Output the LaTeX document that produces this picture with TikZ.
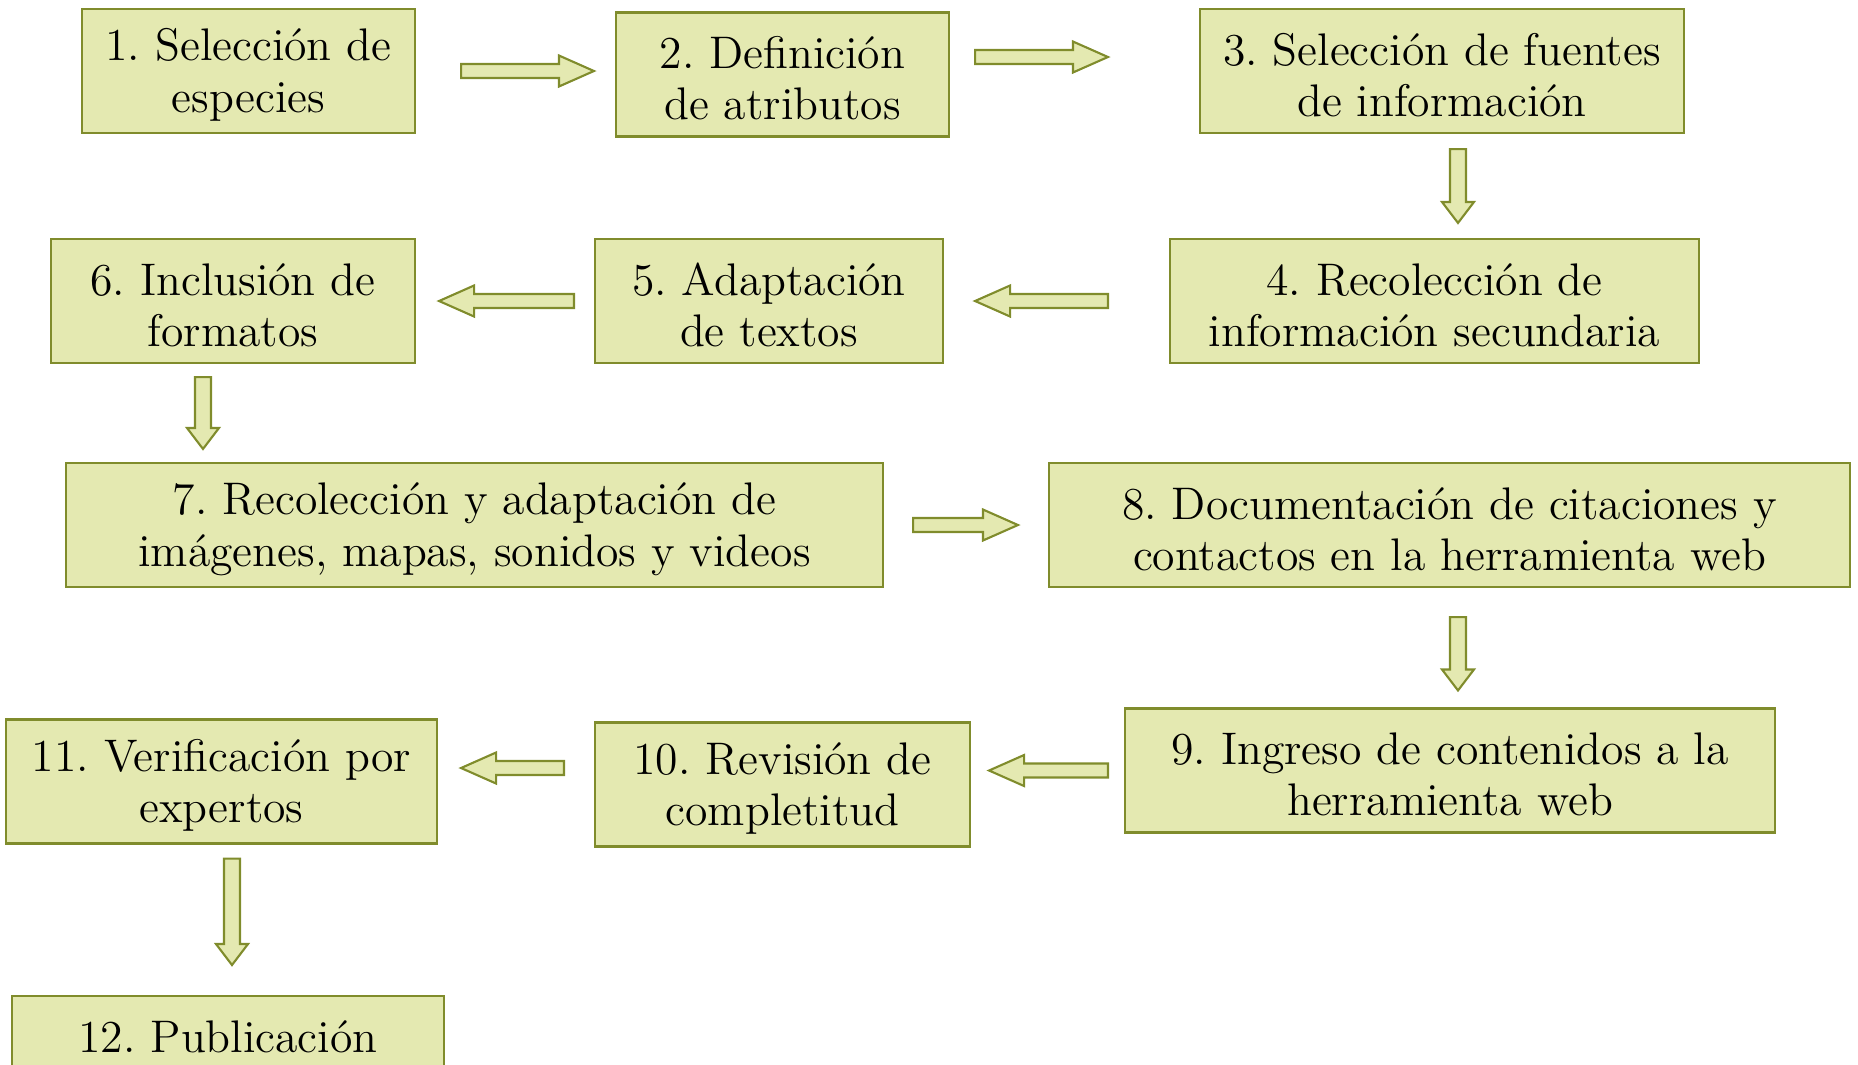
\documentclass[tikz,border=0pt]{standalone}
\usetikzlibrary{calc}

\definecolor{relleno}{RGB}{228,233,177}
\definecolor{borde}{RGB}{128,140,44}

\begin{document}
\frenchspacing
\begin{tikzpicture}[
  font=\fontsize{13}{14.6}\selectfont,
  paso/.style={draw=borde,fill=relleno,line width=0.6pt,align=center,minimum height=1.24cm,inner sep=2pt,text height=26pt},
  medidas/.code n args={3}{\def\flmedio{#1}\def\flcabeza{#2}\def\flpunta{#3}},
  flechah/.style={medidas={0.7mm}{1.55mm}{3.5mm}},
  flechav/.style={medidas={0.8mm}{1.6mm}{2.1mm}},
  flecha/.style 2 args={draw=borde,fill=relleno,line width=0.6pt,line join=miter,to path={
    let \p1=($(\tikztostart)!#1!(\tikztotarget)$), \p2=($(\tikztotarget)!#2!(\tikztostart)$), \p3=($(\p2)!\flpunta!(\p1)$) in
    ($(\p1)!\flmedio!90:(\p2)$) -- ($(\p3)!\flmedio!-90:(\p1)$) -- ($(\p3)!\flcabeza!-90:(\p1)$) -- (\p2)
    -- ($(\p3)!\flcabeza!90:(\p1)$) -- ($(\p3)!\flmedio!90:(\p1)$) -- ($(\p1)!\flmedio!-90:(\p2)$) -- cycle}}
]
\useasboundingbox (0,0) rectangle (18.58,-10.64);
\node[paso,minimum width=3.33cm] (b1) at (2.485,-0.71) {1. Selección de\\especies};
\node[paso,minimum width=3.33cm] (b2) at (7.825,-0.745) {2. Definición\\de atributos};
\node[paso,minimum width=4.84cm] (b3) at (14.42,-0.71) {3. Selección de fuentes\\de información};
\node[paso,minimum width=5.29cm] (b4) at (14.345,-3.01) {4. Recolección de\\información secundaria};
\node[paso,minimum width=3.48cm] (b5) at (7.69,-3.01) {5. Adaptación\\de textos};
\node[paso,minimum width=3.64cm] (b6) at (2.33,-3.01) {6. Inclusión de\\formatos};
\node[paso,minimum width=8.17cm] (b7) at (4.745,-5.25) {7. Recolección y adaptación de\\imágenes, mapas, sonidos y videos};
\node[paso,minimum width=8.01cm] (b8) at (14.495,-5.25) {8. Documentación de citaciones y\\contactos en la herramienta web};
\node[paso,minimum width=6.5cm] (b9) at (14.5,-7.705) {9. Ingreso de contenidos a la\\herramienta web};
\node[paso,minimum width=3.75cm] (b10) at (7.825,-7.845) {10. Revisión de\\completitud};
\node[paso,minimum width=4.31cm] (b11) at (2.215,-7.815) {11. Verificación por\\expertos};
\node[paso,minimum width=4.32cm,anchor=north] (b12) at (2.28,-9.95) {12. Publicación\\\mbox{}};
\draw[flechah,flecha={4.5mm}{2.1mm}] (b1.east) to (b1.east -| b2.west);
\draw[flechah,flecha={2.5mm}{9.1mm}] ([yshift=1.75mm]b2.east) to ([yshift=1.75mm]b2.east -| b3.west);
\draw[flechav,flecha={1.5mm}{1.5mm}] ([xshift=1.6mm]b3.south) to ([xshift=1.6mm]b3.south |- b4.north);
\draw[flechah,flecha={6.1mm}{3.1mm}] (b4.west) to (b4.west -| b5.east);
\draw[flechah,flecha={2mm}{2.3mm}] (b5.west) to (b5.west -| b6.east);
\draw[flechav,flecha={1.3mm}{1.3mm}] ([xshift=-3mm]b6.south) to ([xshift=-3mm]b6.south |- b7.north);
\draw[flechah,flecha={2.9mm}{3mm}] (b7.east) to (b7.east -| b8.west);
\draw[flechav,flecha={2.9mm}{1.7mm}] ([xshift=0.85mm]b8.south) to ([xshift=0.85mm]b8.south |- b9.north);
\draw[flechah,flecha={1.6mm}{1.8mm}] (b9.west) to (b9.west -| b10.east);
\draw[flechah,flecha={3mm}{2.3mm}] ([yshift=1.65mm]b10.west) to ([yshift=1.65mm]b10.west -| b11.east);
\draw[flechav,flecha={1.4mm}{3mm}] ([xshift=1.05mm]b11.south) to ([xshift=1.05mm]b11.south |- b12.north);
\end{tikzpicture}
\end{document}
